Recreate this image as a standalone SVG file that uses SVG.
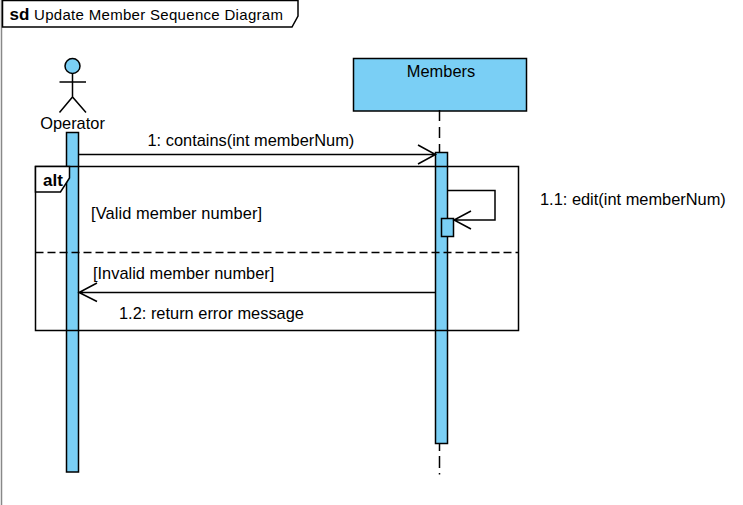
<svg xmlns="http://www.w3.org/2000/svg" width="743" height="505" viewBox="0 0 743 505">
<style>
text{font-family:"Liberation Sans",Arial,sans-serif;font-size:16.4px;fill:#000}
.b{font-weight:bold;font-size:17px}
.t{font-size:15px}
.l{fill:none;stroke:#000;stroke-width:1.5}
.a{fill:#7acff5;stroke:#000;stroke-width:1.5}
.w{fill:#fff;stroke:#000;stroke-width:1.5}
.d{fill:none;stroke:#000;stroke-width:1.5;stroke-dasharray:8 4}
</style>
<rect width="743" height="505" fill="#fff"/>
<g id="frame">
<path d="M1.5 0V505" fill="none" stroke="#888" stroke-width="1.5"/>
<path class="w" d="M2.5 0.5H298V16L292 27H2.5Z"/>
<text class="b" x="9.500" y="20">sd</text>
<text class="t" x="34" y="20" textLength="249">Update Member Sequence Diagram</text>
</g>
<g id="operator">
<circle class="a" cx="72.500" cy="66" r="7.500"/>
<path class="l" d="M72.500 73.500V97M59.500 82H86M59.500 112.500L72.500 97L86 112.500"/>
<text x="72.500" y="129" text-anchor="middle">Operator</text>
</g>
<g id="members">
<rect class="a" x="353.500" y="58.500" width="173" height="52.500"/>
<text x="441" y="76.500" text-anchor="middle">Members</text>
</g>
<g id="lifelines">
<path class="l" d="M439.500 110V121M439.500 127V138M439.500 144V153M439.500 443V451M439.500 456V468M439.500 473V474.500"/>
</g>
<g id="operator-activation"><rect class="a" x="66.500" y="132.500" width="12" height="339.500"/></g>
<g id="members-activation"><rect class="a" x="435.500" y="152.500" width="12" height="291"/></g>
<g id="edit-activation"><rect class="a" x="441.500" y="218.500" width="12" height="18"/></g>
<g id="alt-fragment">
<rect x="35.500" y="166.500" width="483" height="164" class="l"/>
<path class="w" d="M35.500 166.500H69.500V178L60.500 192H35.500Z"/>
<text class="b" x="43" y="186">alt</text>
<path class="d" d="M35.500 252.500H518.500"/>
<text x="91" y="219" textLength="171">[Valid member number]</text>
<text x="93" y="279">[Invalid member number]</text>
</g>
<g id="connectors">
<path class="l" d="M78.500 154.500H435.500M418 145L435.500 154.500L418 164"/>
<text x="147.500" y="145.500">1: contains(int memberNum)</text>
<path class="l" d="M447.500 190.500H495V220H454M471 211L454 220L471 229"/>
<text x="540" y="204.500">1.1: edit(int memberNum)</text>
<path class="l" d="M435.500 292.500H79M97 283L79 292.500L97 301.500"/>
<text x="119" y="318.500">1.2: return error message</text>
</g>
</svg>
